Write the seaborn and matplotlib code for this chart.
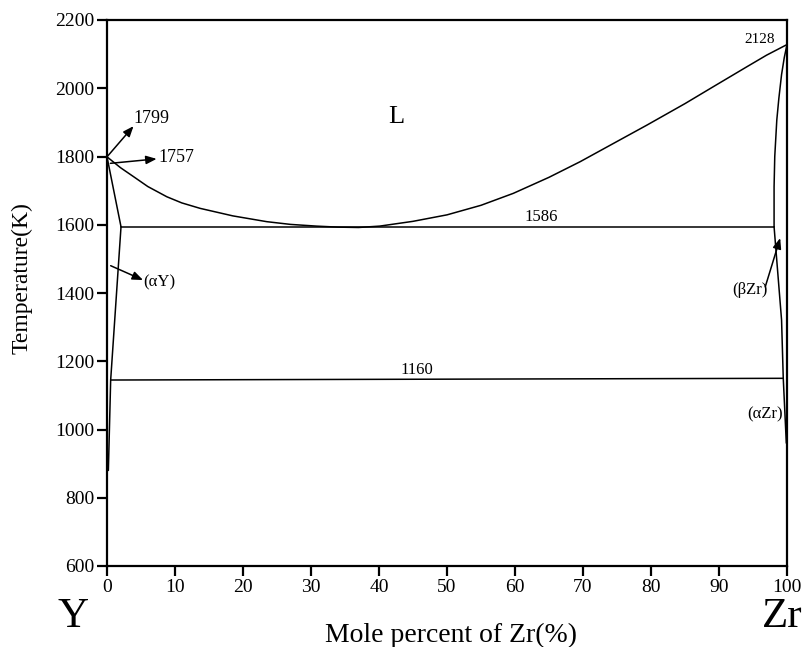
import numpy as np
import pandas as pd
import matplotlib
matplotlib.use("Agg")
import matplotlib.pyplot as plt
import seaborn as sns

# ---- data ----
liq_x = [0, 1, 2, 3.9, 6, 8.8, 11, 13.7, 18.5, 23.5, 27, 30.8, 34, 37, 40.1, 45, 50, 55,
         59.75, 65, 69.6, 75, 79.4, 85, 89.2, 94.1, 97, 100]
liq_T = [1799, 1783, 1767, 1741, 1712, 1682, 1664, 1648, 1626, 1609, 1601, 1596, 1593, 1592,
         1596, 1610, 1629, 1657, 1692, 1739, 1785, 1844, 1892, 1955, 2005, 2063, 2097, 2128]

solY_x = [0, 2.06]
solY_T = [1799, 1594]
solvY_x = [2.06, 0.54, 0.2]
solvY_T = [1594, 1145, 880]

solZr_x = [100, 99.6, 99.2, 98.8, 98.5, 98.2, 98.1, 98.1]
solZr_T = [2128, 2090, 2040, 1970, 1907, 1800, 1711, 1594]
solvZr_x = [98.1, 99.2, 99.45, 99.9]
solvZr_T = [1594, 1321, 1150, 960]

iso1_x = [2.06, 98.1]
iso1_T = [1594, 1594]
iso2_x = [0.54, 99.45]
iso2_T = [1145, 1150]

x_ticks = list(range(0, 101, 10))
y_ticks = list(range(600, 2201, 200))

sns.set_theme(style="ticks")
plt.rcParams["font.family"] = ["Liberation Serif", "DejaVu Serif"]
plt.rcParams["text.color"] = "black"
plt.rcParams["axes.labelcolor"] = "black"
plt.rcParams["xtick.color"] = "black"
plt.rcParams["ytick.color"] = "black"

fig = plt.figure(figsize=(8.06, 6.47), dpi=100)
ax = fig.add_axes([107/806, 1-566/647, (787-107)/806, (566-20)/647])

lw = 1.1
for xs, ts in [(liq_x, liq_T), (solY_x, solY_T), (solvY_x, solvY_T),
               (solZr_x, solZr_T), (solvZr_x, solvZr_T),
               (iso1_x, iso1_T), (iso2_x, iso2_T)]:
    sns.lineplot(x=xs, y=ts, sort=False, estimator=None, color="black", lw=lw, ax=ax)

ax.set_xlim(0, 100)
ax.set_ylim(600, 2200)
ax.set_xticks(x_ticks)
ax.set_yticks(y_ticks)
ax.tick_params(axis="both", direction="out", length=7, width=1.6, labelsize=14,
               colors="black", labelcolor="black")
ax.tick_params(axis="x", pad=2)
ax.tick_params(axis="y", pad=2)
ax.tick_params(top=False, right=False)
for s in ax.spines.values():
    s.set_visible(True)
    s.set_linewidth(1.6)
    s.set_color("black")
ax.set_xlabel("")
ax.set_ylabel("")

arrow = dict(arrowstyle="-|>,head_length=0.45,head_width=0.18", color="black", lw=1.1,
             shrinkA=0, shrinkB=0, mutation_scale=14)
ax.annotate("", xy=(3.9, 1889), xytext=(0, 1799), arrowprops=arrow)
ax.text(3.9, 1910, "1799", fontsize=13, ha="left", va="center")
ax.annotate("", xy=(7.3, 1793), xytext=(0.5, 1780), arrowprops=arrow)
ax.text(7.5, 1798, "1757", fontsize=13, ha="left", va="center")
ax.annotate("", xy=(5.3, 1438), xytext=(0.54, 1480), arrowprops=arrow)
ax.text(5.4, 1432, "(αY)", fontsize=12, ha="left", va="center")
ax.annotate("", xy=(99.0, 1561), xytext=(96.8, 1418), arrowprops=arrow)
ax.text(94.6, 1409, "(βZr)", fontsize=12, ha="center", va="center")
ax.text(99.4, 1045, "(αZr)", fontsize=12, ha="right", va="center")
ax.text(96.0, 2144, "2128", fontsize=11, ha="center", va="center")
ax.text(63.8, 1600, "1586", fontsize=12, ha="center", va="bottom")
ax.text(45.6, 1152, "1160", fontsize=12, ha="center", va="bottom")
ax.text(42.5, 1916, "L", fontsize=19, ha="center", va="center")

fig.text(73/806, 1-627/647, "Y", fontsize=31, ha="center", va="baseline")
fig.text(803/806, 1-627/647, "Zr", fontsize=31, ha="right", va="baseline")
fig.text(451/806, 1-642/647, "Mole percent of Zr(%)", fontsize=20, ha="center",
         va="baseline")
fig.text(22/806, 1-278/647, "Temperature(K)", fontsize=17, ha="center", va="center",
         rotation=90)

fig.savefig("out.png", dpi=100, facecolor="white")
